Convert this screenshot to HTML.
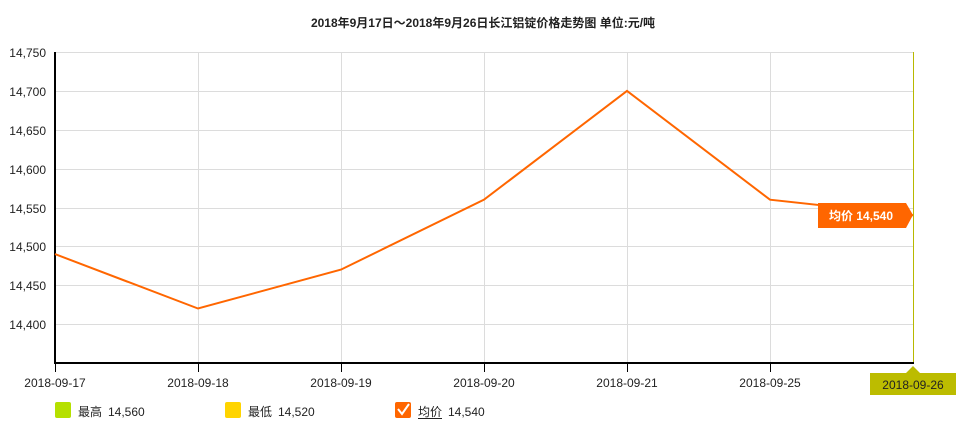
<!DOCTYPE html>
<html><head><meta charset="utf-8"><style>
body{margin:0;background:#fff;}
svg text{font-family:"Liberation Sans","Noto Sans CJK SC",sans-serif;}
</style></head><body>
<svg width="966" height="428" xmlns="http://www.w3.org/2000/svg">
<text x="483" y="27" text-anchor="middle" font-size="12" font-weight="bold" fill="#222">2018年9月17日～2018年9月26日长江铝锭价格走势图 单位:元/吨</text>
<g stroke="#dcdcdc" stroke-width="1">
<line x1="55" y1="52.5" x2="913" y2="52.5"/><line x1="55" y1="91.5" x2="913" y2="91.5"/>
<line x1="55" y1="130.5" x2="913" y2="130.5"/><line x1="55" y1="169.5" x2="913" y2="169.5"/>
<line x1="55" y1="208.5" x2="913" y2="208.5"/><line x1="55" y1="246.5" x2="913" y2="246.5"/>
<line x1="55" y1="285.5" x2="913" y2="285.5"/><line x1="55" y1="324.5" x2="913" y2="324.5"/>
<line x1="198.5" y1="52" x2="198.5" y2="363"/><line x1="341.5" y1="52" x2="341.5" y2="363"/>
<line x1="484.5" y1="52" x2="484.5" y2="363"/><line x1="627.5" y1="52" x2="627.5" y2="363"/>
<line x1="770.5" y1="52" x2="770.5" y2="363"/>
</g>
<line x1="913.5" y1="52" x2="913.5" y2="363" stroke="#b8b800" stroke-width="1"/>
<line x1="55" y1="52" x2="55" y2="364" stroke="#000" stroke-width="2"/>
<line x1="54" y1="363" x2="914" y2="363" stroke="#000" stroke-width="2"/>
<g stroke="#000" stroke-width="1">
<line x1="55.5" y1="363" x2="55.5" y2="372"/><line x1="198.5" y1="363" x2="198.5" y2="372"/>
<line x1="341.5" y1="363" x2="341.5" y2="372"/><line x1="484.5" y1="363" x2="484.5" y2="372"/>
<line x1="627.5" y1="363" x2="627.5" y2="372"/><line x1="770.5" y1="363" x2="770.5" y2="372"/>
</g>
<g font-size="12" fill="#222" text-anchor="end">
<text x="46" y="57">14,750</text><text x="46" y="96">14,700</text><text x="46" y="135">14,650</text>
<text x="46" y="174">14,600</text><text x="46" y="213">14,550</text><text x="46" y="251">14,500</text>
<text x="46" y="290">14,450</text><text x="46" y="329">14,400</text>
</g>
<g font-size="12" fill="#222" text-anchor="middle">
<text x="55" y="387">2018-09-17</text><text x="198" y="387">2018-09-18</text><text x="341" y="387">2018-09-19</text>
<text x="484" y="387">2018-09-20</text><text x="627" y="387">2018-09-21</text><text x="770" y="387">2018-09-25</text>
</g>
<polyline fill="none" stroke="#ff6600" stroke-width="2" points="55,254.1 198,308.5 341,269.6 484,199.7 627,90.9 770,199.7 913,215.2"/>
<polygon points="818,203 906,203 913,215 906,228 818,228" fill="#ff6600"/>
<text x="861" y="220" text-anchor="middle" font-size="12" font-weight="bold" fill="#fff">均价 14,540</text>
<polygon points="870,373 906,373 913,366 920,373 956,373 956,395 870,395" fill="#bcbc00"/>
<text x="913" y="389" text-anchor="middle" font-size="12" fill="#222">2018-09-26</text>
<rect x="55" y="402" width="16" height="16" rx="2" fill="#b5e000"/>
<text x="78" y="416" font-size="12" fill="#222">最高</text>
<text x="108" y="416" font-size="12" fill="#222">14,560</text>
<rect x="225" y="402" width="16" height="16" rx="2" fill="#ffd400"/>
<text x="248" y="416" font-size="12" fill="#222">最低</text>
<text x="278" y="416" font-size="12" fill="#222">14,520</text>
<rect x="395" y="402" width="16" height="16" rx="2" fill="#ff6600"/>
<polyline points="398,409 402,414 409,404" fill="none" stroke="#fff" stroke-width="2"/>
<text x="418" y="416" font-size="12" fill="#222">均价</text>
<line x1="418" y1="418.5" x2="442" y2="418.5" stroke="#222" stroke-width="1"/>
<text x="448" y="416" font-size="12" fill="#222">14,540</text>
</svg>
</body></html>
